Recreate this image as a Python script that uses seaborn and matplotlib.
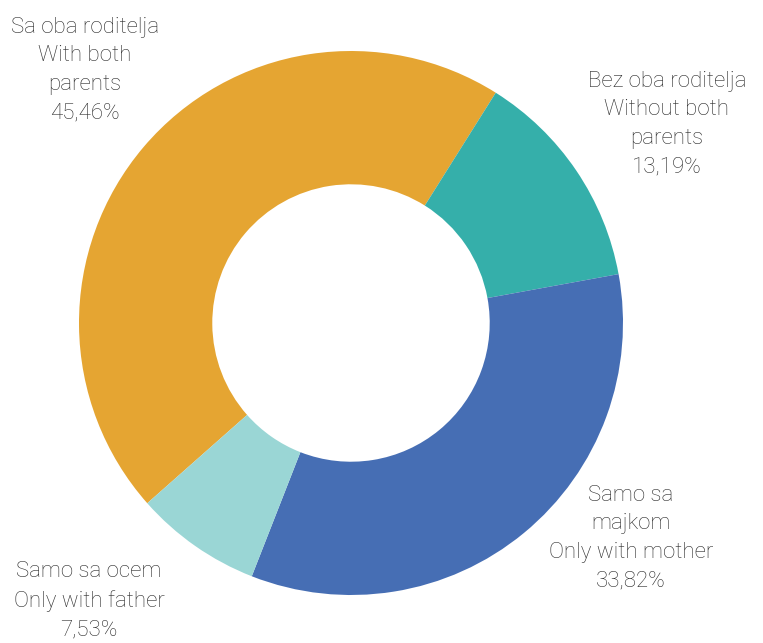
import matplotlib
matplotlib.use("Agg")
import matplotlib.pyplot as plt
import seaborn as sns

# data
labels = ["Sa oba roditelja\nWith both\nparents",
          "Bez oba roditelja\nWithout both\nparents",
          "Samo sa\nmajkom\nOnly with mother",
          "Samo sa ocem\nOnly with father"]
shares = [45.46, 13.19, 33.82, 7.53]
colors = ["#E5A532", "#35AFAA", "#466EB4", "#9AD6D5"]

sns.set_theme(style="white")
plt.rcParams["font.family"] = ["Roboto", "DejaVu Sans"]

fig = plt.figure(figsize=(7.63, 6.43), dpi=100)
ax = fig.add_axes([0, 0, 1, 1])

# pixel-like coordinates, y measured from bottom
cx, cy, r = 351, 643 - 323, 272
wedges, _ = ax.pie(shares, colors=colors, startangle=221.5, counterclock=False,
                   radius=r, center=(cx, cy),
                   wedgeprops=dict(width=r * 0.49, linewidth=0))

# label positions (text centre) in pixels
label_pos = [(85, 70), (667, 124), (631, 538), (89, 601)]
for lab, val, (x, y) in zip(labels, shares, label_pos):
    txt = lab + "\n" + f"{val:.2f}".replace(".", ",") + "%"
    ax.text(x, 643 - y, txt, ha="center", va="center", fontsize=16,
            fontweight="light", color="#2a2a2a", linespacing=1.47)

ax.set_xlim(0, 763)
ax.set_ylim(0, 643)
ax.axis("off")

fig.savefig("out.png", dpi=100)
